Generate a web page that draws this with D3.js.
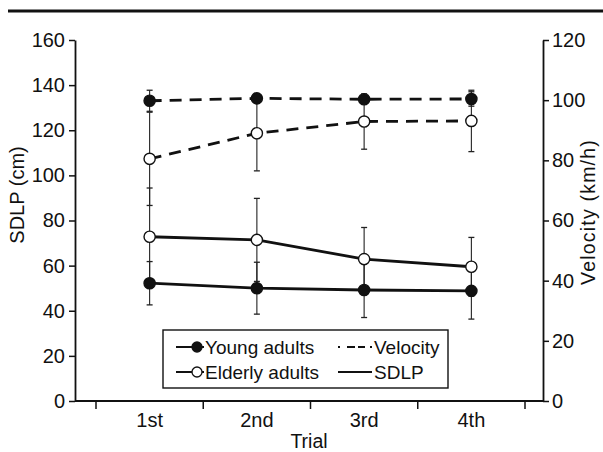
<!DOCTYPE html>
<html><head><meta charset="utf-8">
<script src="https://cdn.jsdelivr.net/npm/d3@7"></script>
<style>
body{margin:0;background:#fff;}
text{font-family:"Liberation Sans",Arial,Helvetica,sans-serif;fill:#111;}
</style></head>
<body><svg id="c" width="603" height="452"></svg>
<script>
const trials = ["1st","2nd","3rd","4th"];
const sdlpTicks = [0,20,40,60,80,100,120,140,160];
const velTicks = [0,20,40,60,80,100,120];
// Young adults
const youngVel = [99.8,100.6,100.3,100.4];
const youngVelSD = [3.5,1.5,1.2,2.4];
const youngSDLP = [52.2,50.0,49.2,48.8];
const youngSDLPSD = [9.6,11.5,12.2,12.5];
// Elderly adults
const elderVel = [80.5,89.0,92.9,93.1];
const elderVelSD = [15.5,12.5,9.2,10.2];
const elderSDLP = [72.8,71.4,62.9,59.5];
const elderSDLPSD = [21.6,18.4,14.0,13.0];

const svg = d3.select("#c");
const L = 75, R = 543, T = 40, B = 401;
const x = d3.scaleBand().domain(trials).range([96,525]).padding(0);
const cx = d => x(d) + x.bandwidth()/2;
const yS = d3.scaleLinear().domain([0,160]).range([B,T]);
const yV = d3.scaleLinear().domain([0,120]).range([B,T]);

// top rule
svg.append("line").attr("x1",8).attr("x2",603).attr("y1",11).attr("y2",11)
  .attr("stroke","#111").attr("stroke-width",3);

// left axis
const gl = svg.append("g").attr("transform",`translate(${L},0)`)
  .call(d3.axisLeft(yS).tickValues(sdlpTicks).tickSize(6).tickPadding(4).tickSizeOuter(0));
// right axis
const gr = svg.append("g").attr("transform",`translate(${R},0)`)
  .call(d3.axisRight(yV).tickValues(velTicks).tickSize(6).tickPadding(3).tickSizeOuter(0));
[gl,gr].forEach(g=>{
  g.select(".domain").attr("stroke","#111").attr("stroke-width",1.8);
  g.selectAll(".tick line").attr("stroke","#111").attr("stroke-width",1.5);
  g.selectAll(".tick text").style("font-size","20px").attr("fill","#111");
});
// x axis
svg.append("line").attr("x1",L).attr("x2",R).attr("y1",B).attr("y2",B)
  .attr("stroke","#111").attr("stroke-width",1.8);
const gx = svg.append("g").attr("transform",`translate(0,${B})`)
  .call(d3.axisBottom(x).tickSize(0).tickPadding(12));
gx.select(".domain").remove();
gx.selectAll(".tick text").style("font-size","20px").attr("fill","#111");
const edges = trials.map(t=>x(t)).concat([x(trials[3])+x.bandwidth()]);
svg.selectAll(".xt").data(edges).enter().append("line")
  .attr("x1",d=>d).attr("x2",d=>d).attr("y1",B).attr("y2",B+8)
  .attr("stroke","#111").attr("stroke-width",1.5);

// axis titles
svg.append("text").attr("transform",`translate(24,195) rotate(-90)`)
  .attr("text-anchor","middle").style("font-size","20px").text("SDLP (cm)");
svg.append("text").attr("transform",`translate(595,212) rotate(-90)`)
  .attr("text-anchor","middle").style("font-size","19.5px").style("letter-spacing","1.2px")
  .text("Velocity (km/h)");
svg.append("text").attr("x",(L+R)/2).attr("y",448)
  .attr("text-anchor","middle").style("font-size","19.5px").text("Trial");

// series definitions
const series = [
  {v:youngVel, sd:youngVelSD, y:yV, dash:"12,8", fill:"#111"},
  {v:elderVel, sd:elderVelSD, y:yV, dash:"12,8", fill:"#fff"},
  {v:youngSDLP, sd:youngSDLPSD, y:yS, dash:null, fill:"#111"},
  {v:elderSDLP, sd:elderSDLPSD, y:yS, dash:null, fill:"#fff"}
];
// error bars
series.forEach(s=>{
  const g = svg.append("g");
  trials.forEach((t,i)=>{
    const x0 = cx(t), y1 = s.y(s.v[i]+s.sd[i]), y2 = s.y(s.v[i]-s.sd[i]);
    g.append("line").attr("x1",x0).attr("x2",x0).attr("y1",y1).attr("y2",y2)
      .attr("stroke","#222").attr("stroke-width",1.1);
    [y1,y2].forEach(yy=>g.append("line").attr("x1",x0-3).attr("x2",x0+3)
      .attr("y1",yy).attr("y2",yy).attr("stroke","#222").attr("stroke-width",1.3));
  });
});
// lines
series.forEach(s=>{
  const line = d3.line().x((d,i)=>cx(trials[i])).y(d=>s.y(d));
  svg.append("path").datum(s.v).attr("d",line).attr("fill","none")
    .attr("stroke","#111").attr("stroke-width",2.8)
    .attr("stroke-dasharray",s.dash);
});
// markers
series.forEach(s=>{
  svg.selectAll(null).data(s.v).enter().append("circle")
    .attr("cx",(d,i)=>cx(trials[i])).attr("cy",d=>s.y(d)).attr("r",5.6)
    .attr("fill",s.fill).attr("stroke","#111").attr("stroke-width",1.4);
});

// legend
const lg = svg.append("g");
lg.append("rect").attr("x",163).attr("y",330).attr("width",285).attr("height",58)
  .attr("fill","#fff").attr("stroke","#111").attr("stroke-width",1.4);
const legItems = [
  {label:"Young adults", fill:"#111", yy:347},
  {label:"Elderly adults", fill:"#fff", yy:372}
];
legItems.forEach(it=>{
  lg.append("line").attr("x1",176).attr("x2",204).attr("y1",it.yy).attr("y2",it.yy)
    .attr("stroke","#111").attr("stroke-width",2);
  lg.append("circle").attr("cx",197).attr("cy",it.yy).attr("r",5)
    .attr("fill",it.fill).attr("stroke","#111").attr("stroke-width",1.3);
  lg.append("text").attr("x",205).attr("y",it.yy+7).style("font-size","19px").text(it.label);
});
lg.append("line").attr("x1",338).attr("x2",372).attr("y1",347).attr("y2",347)
  .attr("stroke","#111").attr("stroke-width",2).attr("stroke-dasharray","2,7,8,3,7,5,2");
lg.append("text").attr("x",374).attr("y",354).style("font-size","19px").text("Velocity");
lg.append("line").attr("x1",338).attr("x2",372).attr("y1",372).attr("y2",372)
  .attr("stroke","#111").attr("stroke-width",2);
lg.append("text").attr("x",374).attr("y",379).style("font-size","19px").text("SDLP");
</script></body></html>
